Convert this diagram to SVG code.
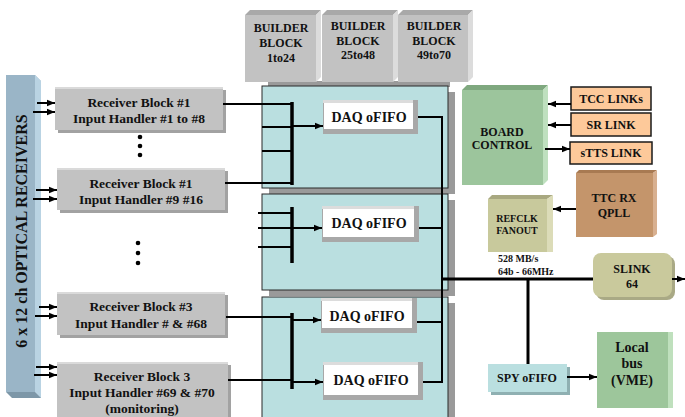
<svg xmlns="http://www.w3.org/2000/svg" width="685" height="417" viewBox="0 0 685 417">
<defs>
<marker id="ah" viewBox="0 0 10 10" refX="10" refY="5" markerWidth="4" markerHeight="4" orient="auto" markerUnits="strokeWidth"><path d="M0,1 L10,5 L0,9 z" fill="#000"/></marker>
</defs>
<style>
text{font-family:"Liberation Serif","Times New Roman",serif;font-weight:bold;fill:#111;text-anchor:middle}
.t13{font-size:13.5px}.t12{font-size:12px}.t14{font-size:14px}.t10{font-size:10px}
.rx{fill:#c2c2c2}.rxs{fill:#a2a2a2}.rxl{fill:#dadada}
.panel{fill:#badfe0;stroke:#2a2a2a;stroke-width:1}
.pshadow{fill:#9a9a9a}
.fifo{fill:#fff}.fifos{fill:#a8a8a8}.fifol{fill:#dcdcdc}
.orange{fill:#fdc99a;stroke:#1a1a1a;stroke-width:1.5}
.ln{stroke:#000;stroke-width:2;fill:none}
.bus{stroke:#000;stroke-width:3.5;fill:none}
.ar{stroke:#000;stroke-width:2;fill:none;marker-end:url(#ah)}
</style>
<rect width="685" height="417" fill="#fff"/>

<!-- optical receivers -->
<g id="optical">
<polygon points="6,75 35,75 41,81 41,398 35,392 6,392" fill="#9ab5c7"/>
<polygon points="35,75 41,81 41,398 35,392" fill="#b9d3e3"/>
<polygon points="6,392 35,392 41,398 12,398" fill="#7d97a8"/>
<text style="font-size:16px" transform="translate(27,231) rotate(-90)">6 x 12 ch OPTICAL RECEIVERS</text>
</g>

<!-- builder blocks -->
<rect x="268" y="81" width="182" height="6" class="pshadow"/>
<g id="bb1">
<polygon points="245,15 250,10 321,10 316,15" fill="#a9a9a9"/>
<polygon points="316,15 321,10 321,77 316,82" fill="#dcdcdc"/>
<rect x="245" y="15" width="71" height="67" fill="#c2c2c2"/>
<text class="t12" x="281" y="32">BUILDER</text><text class="t12" x="281" y="47">BLOCK</text><text class="t12" x="281" y="62">1to24</text>
</g>
<g id="bb2">
<polygon points="322,15 327,10 398,10 393,15" fill="#a9a9a9"/>
<polygon points="393,15 398,10 398,77 393,82" fill="#dcdcdc"/>
<rect x="322" y="15" width="71" height="67" fill="#c2c2c2"/>
<text class="t12" x="358" y="30">BUILDER</text><text class="t12" x="358" y="45">BLOCK</text><text class="t12" x="358" y="59">25to48</text>
</g>
<g id="bb3">
<polygon points="398,15 403,10 473,10 468,15" fill="#a9a9a9"/>
<polygon points="468,15 473,10 473,77 468,82" fill="#dcdcdc"/>
<rect x="398" y="15" width="70" height="67" fill="#c2c2c2"/>
<text class="t12" x="434" y="30">BUILDER</text><text class="t12" x="434" y="45">BLOCK</text><text class="t12" x="434" y="59">49to70</text>
</g>

<!-- panels -->
<g id="panel1"><rect x="269" y="92" width="186" height="102" class="pshadow"/><rect x="262" y="86" width="186" height="102" class="panel"/></g>
<g id="panel2"><rect x="269" y="200" width="186" height="96" class="pshadow"/><rect x="262" y="194" width="186" height="96" class="panel"/></g>
<g id="panel3"><rect x="269" y="303" width="186" height="125" class="pshadow"/><rect x="262" y="297" width="186" height="125" class="panel"/></g>

<!-- receiver blocks -->
<g id="rb1">
<rect x="58" y="90" width="168" height="43" class="rxs"/>
<rect x="55" y="87" width="168" height="43" class="rx"/>
<rect x="55" y="87" width="168" height="2" class="rxl"/>
<text class="t13" x="139" y="107">Receiver Block #1</text><text class="t13" x="139" y="123">Input Handler #1 to #8</text>
</g>
<g id="rb2">
<rect x="60" y="171" width="168" height="42" class="rxs"/>
<rect x="57" y="168" width="168" height="42" class="rx"/>
<rect x="57" y="168" width="168" height="2" class="rxl"/>
<text class="t13" x="141" y="188">Receiver Block #1</text><text class="t13" x="141" y="204">Input Handler #9 #16</text>
</g>
<g id="rb3">
<rect x="60" y="295" width="168" height="43" class="rxs"/>
<rect x="57" y="292" width="168" height="43" class="rx"/>
<rect x="57" y="292" width="168" height="2" class="rxl"/>
<text class="t13" x="141" y="311">Receiver Block #3</text><text class="t13" x="141" y="328">Input Handler # &amp; #68</text>
</g>
<g id="rb4">
<rect x="60" y="365" width="171" height="60" class="rxs"/>
<rect x="57" y="362" width="171" height="60" class="rx"/>
<rect x="57" y="362" width="171" height="2" class="rxl"/>
<text class="t13" x="142" y="381">Receiver Block 3</text><text class="t13" x="142" y="397">Input Handler #69 &amp; #70</text><text class="t13" x="142" y="413">(monitoring)</text>
</g>

<!-- dots -->
<g id="dots" fill="#000">
<circle cx="140" cy="137" r="2.3"/><circle cx="140" cy="146" r="2.3"/><circle cx="140" cy="155" r="2.3"/>
<circle cx="138" cy="243" r="2.3"/><circle cx="138" cy="253" r="2.3"/><circle cx="138" cy="263" r="2.3"/>
</g>

<!-- DAQ FIFOs -->
<g id="fifo1"><rect x="323" y="100" width="95" height="34" class="fifos"/><rect x="323" y="100" width="90" height="3" class="fifol"/><rect x="324" y="103" width="89" height="26" class="fifo"/><text class="t14" x="369" y="122">DAQ oFIFO</text></g>
<g id="fifo2"><rect x="322" y="206" width="97" height="36" class="fifos"/><rect x="322" y="206" width="92" height="3" class="fifol"/><rect x="323" y="209" width="91" height="28" class="fifo"/><text class="t14" x="369" y="228">DAQ oFIFO</text></g>
<g id="fifo3"><rect x="321" y="298" width="96" height="35" class="fifos"/><rect x="321" y="298" width="91" height="3" class="fifol"/><rect x="322" y="301" width="90" height="27" class="fifo"/><text class="t14" x="367" y="321">DAQ oFIFO</text></g>
<g id="fifo4"><rect x="323" y="362" width="100" height="38" class="fifos"/><rect x="323" y="362" width="95" height="3" class="fifol"/><rect x="324" y="365" width="94" height="30" class="fifo"/><text class="t14" x="371" y="385">DAQ oFIFO</text></g>

<!-- board control -->
<g id="board">
<polygon points="462,90 467,85 548,85 543,90" fill="#7fa87f"/>
<polygon points="543,90 548,85 548,180 543,185" fill="#bfe0bf"/>
<rect x="462" y="90" width="81" height="95" fill="#9cc59c"/>
<text class="t12" x="502" y="136">BOARD</text><text class="t12" x="502" y="149">CONTROL</text>
</g>
<g id="tcc"><rect x="571" y="87" width="80" height="23" class="orange"/><text class="t12" x="611" y="103">TCC LINKs</text></g>
<g id="sr"><rect x="571" y="113" width="80" height="23" class="orange"/><text class="t12" x="611" y="129">SR LINK</text></g>
<g id="stts"><rect x="570" y="142" width="82" height="22" class="orange"/><text class="t12" x="611" y="157">sTTS LINK</text></g>
<g id="ttc">
<polygon points="576,173 579,170 657,170 653,173" fill="#a87a52"/>
<polygon points="653,173 657,170 657,234 653,237" fill="#d8b090"/>
<rect x="576" y="173" width="77" height="64" fill="#c4956b"/>
<text class="t12" x="614" y="202">TTC RX</text><text class="t12" x="614" y="217">QPLL</text>
</g>
<g id="refclk">
<polygon points="488,199 492,195 553,195 547,199" fill="#a8a880"/>
<polygon points="547,199 553,195 553,252 547,252" fill="#dcdcb8"/>
<rect x="488" y="199" width="59" height="53" fill="#c8c99c"/>
<text class="t10" x="517" y="222">REFCLK</text><text class="t10" x="517" y="234">FANOUT</text>
</g>
<g id="rate"><text class="t10" x="498" y="262" style="text-anchor:start">528 MB/s</text><text class="t10" x="498" y="275" style="text-anchor:start">64b - 66MHz</text></g>
<g id="slink"><rect x="596" y="256" width="79" height="44" rx="8" fill="#a9a985"/><rect x="593" y="253" width="79" height="44" rx="8" fill="#c9c99c"/><text class="t12" x="632" y="273">SLINK</text><text class="t12" x="632" y="288">64</text></g>
<g id="spy"><rect x="491" y="367" width="79" height="28" fill="#8fb0b2"/><rect x="488" y="364" width="79" height="28" fill="#badfe0"/><text class="t12" x="527" y="382">SPY oFIFO</text></g>
<g id="localbus"><rect x="668" y="332" width="5" height="76" fill="#bfe0bd"/><rect x="597" y="332" width="71" height="76" fill="#9dc69b"/><text class="t14" x="632" y="352">Local</text><text class="t14" x="632" y="368">bus</text><text class="t14" x="632" y="385">(VME)</text></g>

<!-- connectors -->
<g id="connectors">
<line class="ar" x1="37" y1="103" x2="55" y2="103"/><line class="ar" x1="33" y1="112" x2="55" y2="112"/>
<line class="ar" x1="36" y1="190" x2="57" y2="190"/><line class="ar" x1="33" y1="199" x2="57" y2="199"/>
<line class="ar" x1="39" y1="307" x2="57" y2="307"/><line class="ar" x1="35" y1="316" x2="57" y2="316"/>
<line class="ar" x1="36" y1="367" x2="57" y2="367"/><line class="ar" x1="34" y1="375" x2="57" y2="375"/>

<line class="ln" x1="223" y1="104" x2="292" y2="104"/>
<line class="ln" x1="262" y1="127" x2="292" y2="127"/>
<line class="ln" x1="262" y1="151" x2="292" y2="151"/>
<line class="ln" x1="225" y1="183" x2="292" y2="183"/>
<line class="bus" x1="292" y1="102" x2="292" y2="185"/>
<line class="ar" x1="292" y1="126" x2="323" y2="126"/>

<line class="ln" x1="258" y1="213" x2="292" y2="213"/>
<line class="ln" x1="258" y1="228" x2="292" y2="228"/>
<line class="ln" x1="258" y1="247" x2="292" y2="247"/>
<line class="bus" x1="292" y1="207" x2="292" y2="263"/>
<line class="ar" x1="292" y1="228" x2="322" y2="228"/>

<line class="ln" x1="226" y1="317" x2="292" y2="317"/>
<line class="ln" x1="228" y1="380" x2="292" y2="380"/>
<line class="bus" x1="292" y1="313" x2="292" y2="389"/>
<line class="ar" x1="292" y1="320" x2="321" y2="320"/>
<line class="ar" x1="292" y1="382" x2="323" y2="382"/>

<polyline class="ln" points="418,117 442,117 442,382 423,382"/>
<line class="ln" x1="419" y1="228" x2="442" y2="228"/>
<line class="ln" x1="417" y1="322" x2="442" y2="322"/>
<line x1="442" y1="279" x2="593" y2="279" stroke="#000" stroke-width="3"/>
<line x1="528" y1="279" x2="528" y2="364" stroke="#000" stroke-width="3"/>
<line class="ar" x1="672" y1="279" x2="685" y2="279"/>
<line class="ar" x1="567" y1="377" x2="597" y2="377"/>

<line class="ar" x1="571" y1="104" x2="548" y2="104"/>
<line class="ar" x1="571" y1="125" x2="548" y2="125"/>
<line class="ar" x1="545" y1="149" x2="570" y2="149"/>
<line class="ar" x1="576" y1="209" x2="553" y2="209"/>
</g>
</svg>
